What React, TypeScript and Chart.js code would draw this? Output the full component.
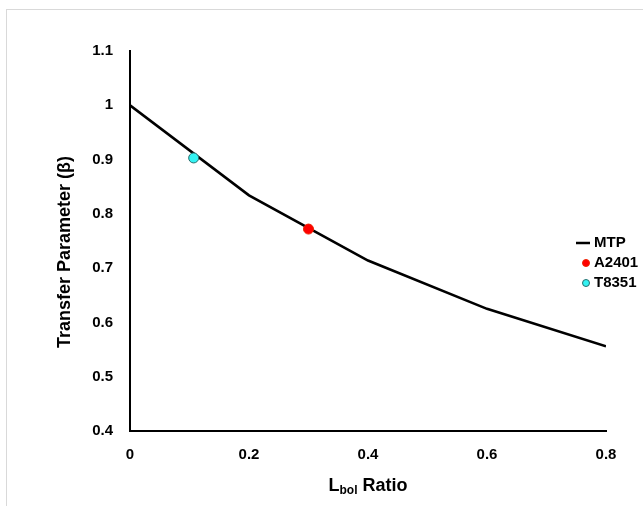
import React, { useEffect, useRef } from "react";
import { Chart, registerables } from "chart.js";

Chart.register(...registerables);

// ---- data ----
const mtpX = [0, 0.2, 0.4, 0.6, 0.8];
const mtpY = [1.0, 0.834, 0.714, 0.625, 0.556];
const a2401X = [0.3];
const a2401Y = [0.772];
const t8351X = [0.107];
const t8351Y = [0.903];
const seriesLabels = ["MTP", "A2401", "T8351"];
const xTickValues = [0, 0.2, 0.4, 0.6, 0.8];
const yTickValues = [0.4, 0.5, 0.6, 0.7, 0.8, 0.9, 1.0, 1.1];
const xTitleMain = "L";
const xTitleSub = "bol";
const xTitleRest = " Ratio";
const yTitle = "Transfer Parameter (\u03B2)";

const FONT = "'Liberation Sans', Arial, sans-serif";

const fmt = (v: number) => String(Number(v.toFixed(1)));

const overlayPlugin = {
  id: "overlay",
  afterDraw(chart: any) {
    const ctx = chart.ctx as CanvasRenderingContext2D;
    const area = chart.chartArea;
    ctx.save();
    ctx.fillStyle = "#000";
    // Y title
    ctx.font = `bold 18px ${FONT}`;
    ctx.textAlign = "center";
    ctx.textBaseline = "middle";
    ctx.save();
    ctx.translate(65, 252);
    ctx.rotate(-Math.PI / 2);
    ctx.fillText(yTitle, 0, 0);
    ctx.restore();

    // X title with subscript
    const mainFont = `bold 18px ${FONT}`;
    const subFont = `bold 12px ${FONT}`;
    ctx.textAlign = "left";
    ctx.textBaseline = "alphabetic";
    ctx.font = mainFont;
    const w1 = ctx.measureText(xTitleMain).width;
    const w3 = ctx.measureText(xTitleRest).width;
    ctx.font = subFont;
    const w2 = ctx.measureText(xTitleSub).width;
    const total = w1 + w2 + w3;
    const cx = (area.left + area.right) / 2;
    const baseY = 491;
    let x = cx - total / 2;
    ctx.font = mainFont;
    ctx.fillText(xTitleMain, x, baseY);
    x += w1;
    ctx.font = subFont;
    ctx.fillText(xTitleSub, x, baseY + 3);
    x += w2;
    ctx.font = mainFont;
    ctx.fillText(xTitleRest, x, baseY);

    // Legend
    const lx = 586;
    const ly0 = 243;
    const step = 20;
    ctx.font = `bold 15px ${FONT}`;
    ctx.textBaseline = "middle";
    chart.data.datasets.forEach((ds: any, i: number) => {
      const y = ly0 + i * step;
      if (ds.showLine) {
        ctx.strokeStyle = ds.borderColor;
        ctx.lineWidth = 2.5;
        ctx.beginPath();
        ctx.moveTo(lx - 10, y);
        ctx.lineTo(lx + 4, y);
        ctx.stroke();
      } else {
        ctx.fillStyle = ds.backgroundColor;
        ctx.strokeStyle = ds.borderColor;
        ctx.lineWidth = 1;
        ctx.beginPath();
        ctx.arc(lx, y, 3.5, 0, Math.PI * 2);
        ctx.fill();
        ctx.stroke();
      }
      ctx.fillStyle = "#000";
      ctx.fillText(ds.label, lx + 8, y);
    });
    ctx.restore();
  },
};

export default function App() {
  const ref = useRef<HTMLCanvasElement | null>(null);

  useEffect(() => {
    if (!ref.current) return;
    const chart = new Chart(ref.current, {
      type: "scatter",
      data: {
        datasets: [
          {
            label: seriesLabels[0],
            data: mtpX.map((x, i) => ({ x, y: mtpY[i] })),
            showLine: true,
            borderColor: "#000000",
            backgroundColor: "#000000",
            borderWidth: 2.6,
            pointRadius: 0,
            tension: 0,
            order: 2,
          },
          {
            label: seriesLabels[1],
            data: a2401X.map((x, i) => ({ x, y: a2401Y[i] })),
            backgroundColor: "#ff0000",
            borderColor: "#ee2200",
            borderWidth: 1,
            pointRadius: 5,
            order: 1,
          },
          {
            label: seriesLabels[2],
            data: t8351X.map((x, i) => ({ x, y: t8351Y[i] })),
            backgroundColor: "#33f3f3",
            borderColor: "#2a6e6e",
            borderWidth: 1,
            pointRadius: 5,
            order: 1,
          },
        ],
      },
      options: {
        responsive: false,
        animation: false,
        devicePixelRatio: 1,
        layout: { padding: { left: 0, top: 51, right: 37, bottom: 0 } },
        plugins: {
          legend: { display: false },
          tooltip: { enabled: false },
          title: { display: false },
        },
        scales: {
          x: {
            type: "linear",
            min: 0,
            max: 0.8,
            grid: { display: false, drawTicks: false },
            border: { display: true, color: "#000", width: 2 },
            afterBuildTicks: (s: any) => {
              s.ticks = xTickValues.map((v) => ({ value: v }));
            },
            afterFit: (s: any) => {
              s.height = 75;
            },
            ticks: {
              color: "#000",
              font: { family: FONT, size: 15, weight: "bold" },
              padding: 15,
              maxRotation: 0,
              autoSkip: false,
              callback: (v: any) => fmt(Number(v)),
            },
          },
          y: {
            type: "linear",
            min: 0.4,
            max: 1.1,
            grid: { display: false, drawTicks: false },
            border: { display: true, color: "#000", width: 2 },
            afterBuildTicks: (s: any) => {
              s.ticks = yTickValues.map((v) => ({ value: v }));
            },
            afterFit: (s: any) => {
              s.width = 130;
            },
            ticks: {
              color: "#000",
              font: { family: FONT, size: 15, weight: "bold" },
              padding: 17,
              autoSkip: false,
              callback: (v: any) => fmt(Number(v)),
            },
          },
        },
      },
      plugins: [overlayPlugin],
    } as any);
    return () => chart.destroy();
  }, []);

  return (
    <>
      <div
        style={{
          position: "fixed",
          left: 6,
          top: 9,
          width: 637,
          height: 497,
          boxSizing: "border-box",
          borderTop: "1px solid #d9d9d9",
          borderLeft: "1px solid #d9d9d9",
        }}
      />
      <canvas
        ref={ref}
        width={643}
        height={506}
        style={{ position: "fixed", left: 0, top: 0, width: 643, height: 506 }}
      />
    </>
  );
}
